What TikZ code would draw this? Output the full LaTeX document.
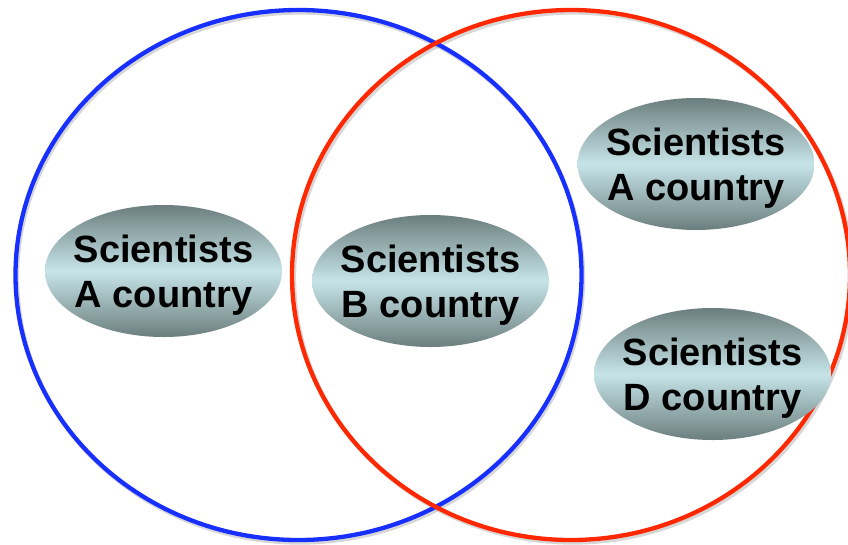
\documentclass[tikz,border=0pt]{standalone}
\usepackage{fontspec}
\setmainfont{Liberation Sans}
\usetikzlibrary{shapes.geometric}
\definecolor{setblue}{RGB}{24,48,255}
\definecolor{setred}{RGB}{255,40,0}
\definecolor{gtop}{RGB}{108,126,126}
\definecolor{gmid}{RGB}{198,228,232}
\tikzset{
  setring/.style={ellipse, inner sep=0pt, line width=4.3pt},
  ringshadow/.style={ellipse, inner sep=0pt, line width=4.3pt, draw=black!35, opacity=0.45},
  blob/.style={ellipse, inner sep=0pt, minimum width=237pt, minimum height=132pt,
    top color=gtop, bottom color=gtop, middle color=gmid},
  lbl/.style={inner sep=0pt, align=center, font=\fontsize{38}{45}\selectfont\bfseries}
}
\begin{document}
\begin{tikzpicture}[x=1pt,y=-1pt]
\useasboundingbox (0,0) rectangle (848,544);
% shadows of the two sets
\node[ringshadow, minimum width=566pt, minimum height=530pt] (blueshadow) at (300,277.5) {};
\node[ringshadow, minimum width=558pt, minimum height=530pt] (redshadow) at (573,277.5) {};
% the two sets
\node[setring, draw=setblue, minimum width=566pt, minimum height=530pt] (blueset) at (298.5,275) {};
\node[setring, draw=setred, minimum width=558pt, minimum height=530pt] (redset) at (571,275) {};
% groups
\node[blob] (a1) at (163.5,271) {};
\node[lbl] (a1t) at ([yshift=-4.5pt]a1.center) {Scientists\\A country};
\node[blob] (b1) at (430.5,281) {};
\node[lbl] (b1t) at ([yshift=-4.5pt]b1.center) {Scientists\\B country};
\node[blob] (a2) at (696,164) {};
\node[lbl] (a2t) at ([yshift=-4.5pt]a2.center) {Scientists\\A country};
\node[blob] (d1) at (712.5,374) {};
\node[lbl] (d1t) at ([yshift=-4.5pt]d1.center) {Scientists\\D country};
\end{tikzpicture}
\end{document}
